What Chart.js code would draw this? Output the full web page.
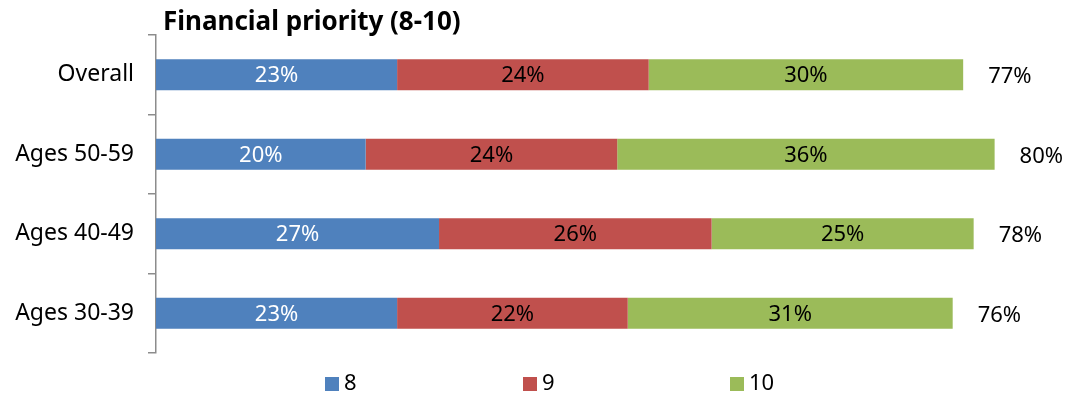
<!DOCTYPE html>
<html>
<head>
<meta charset="utf-8">
<script src="https://cdn.jsdelivr.net/npm/chart.js@4"></script>
<style>
  html, body { margin: 0; padding: 0; background: #fff; }
  #wrap { width: 1078px; height: 396px; position: relative; }
</style>
</head>
<body>
<div id="wrap"><canvas id="priorityChart"></canvas></div>
<script>
// Share of respondents rating financial priority 8, 9 or 10
const categories = ["Overall", "Ages 50-59", "Ages 40-49", "Ages 30-39"];
const seriesLabels = ["8", "9", "10"];
const score8 = [23, 20, 27, 23];
const score9 = [24, 24, 26, 22];
const score10 = [30, 36, 25, 31];
const totals = [77, 80, 78, 76];

const seriesColors = ["#4F81BD", "#C0504D", "#9BBB59"];
const labelColors = ["#ffffff", "#000000", "#000000"];
const FONT = "'Noto Sans', 'Open Sans', sans-serif";
const LABEL_SIZE = 22;

// Draws the title, the in-bar percentages, the totals and the legend row
const annotatePlugin = {
  id: "annotate",
  afterDatasetsDraw(chart) {
    const ctx = chart.ctx;
    const area = chart.chartArea;
    ctx.save();

    // Title
    ctx.fillStyle = "#000";
    ctx.font = "bold 26px " + FONT;
    ctx.textAlign = "left";
    ctx.textBaseline = "middle";
    ctx.fillText("Financial priority (8-10)", area.left + 7, 23);

    // Segment values
    ctx.font = LABEL_SIZE + "px " + FONT;
    ctx.textAlign = "center";
    chart.data.datasets.forEach((ds, di) => {
      const meta = chart.getDatasetMeta(di);
      meta.data.forEach((bar, i) => {
        ctx.fillStyle = labelColors[di];
        ctx.fillText(ds.data[i] + "%", (bar.base + bar.x) / 2, bar.y + 1);
      });
    });

    // Totals to the right of each bar
    const xScale = chart.scales.x;
    const lastMeta = chart.getDatasetMeta(chart.data.datasets.length - 1);
    ctx.fillStyle = "#000";
    ctx.textAlign = "left";
    totals.forEach((t, i) => {
      const x = xScale.getPixelForValue(t) + 25;
      ctx.fillText(t + "%", x, lastMeta.data[i].y + 2);
    });

    // Legend
    const legendX = [325, 523, 730];
    const legendY = 384;
    seriesLabels.forEach((lbl, i) => {
      ctx.fillStyle = seriesColors[i];
      ctx.fillRect(legendX[i], legendY - 7, 14, 14);
      ctx.fillStyle = "#000";
      ctx.fillText(lbl, legendX[i] + 19, legendY);
    });

    ctx.restore();
  }
};

new Chart(document.getElementById("priorityChart"), {
  type: "bar",
  data: {
    labels: categories,
    datasets: [
      { label: seriesLabels[0], data: score8, backgroundColor: seriesColors[0] },
      { label: seriesLabels[1], data: score9, backgroundColor: seriesColors[1] },
      { label: seriesLabels[2], data: score10, backgroundColor: seriesColors[2] }
    ]
  },
  options: {
    indexAxis: "y",
    responsive: true,
    maintainAspectRatio: false,
    animation: false,
    categoryPercentage: 1,
    barPercentage: 0.39,
    layout: { padding: { top: 35, bottom: 43, left: 0, right: 10 } },
    plugins: {
      legend: { display: false },
      title: { display: false },
      tooltip: { enabled: false }
    },
    scales: {
      x: {
        stacked: true,
        display: false,
        min: 0,
        max: 87
      },
      y: {
        stacked: true,
        afterFit(scale) { scale.width = 156; },
        border: { display: true, color: "#8c8c8c", width: 1.5 },
        grid: {
          display: true,
          drawOnChartArea: false,
          drawTicks: true,
          tickLength: 8,
          color: "#8c8c8c",
          lineWidth: 1.5,
          offset: true
        },
        ticks: {
          color: "#000",
          padding: 14,
          font: { family: FONT, size: 23 }
        }
      }
    }
  },
  plugins: [annotatePlugin]
});
</script>
</body>
</html>
